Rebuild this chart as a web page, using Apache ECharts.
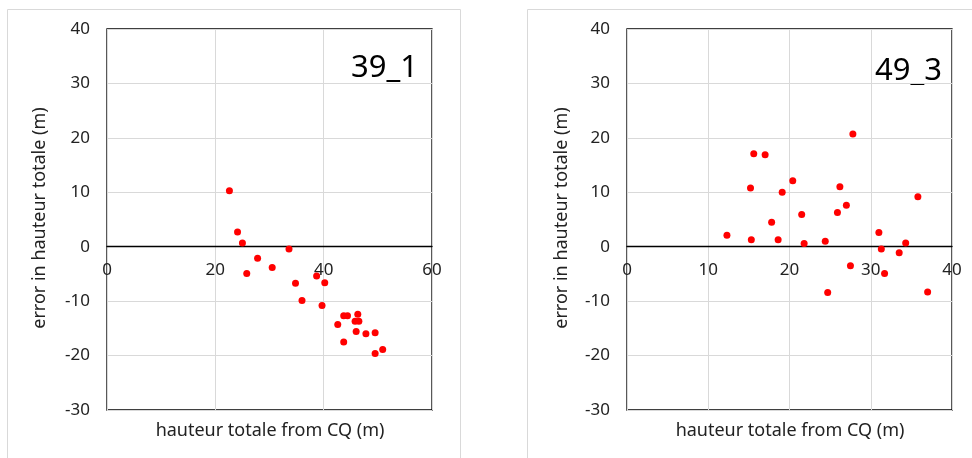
<!DOCTYPE html>
<html><head><meta charset="utf-8">
<script src="https://cdn.jsdelivr.net/npm/echarts@6/dist/echarts.min.js"></script>
<style>html,body{margin:0;padding:0;background:#fff}#c{width:972px;height:458px}</style>
</head><body><div id="c"></div>
<script>
// Panel 39_1
const xA = [22.6,24.1,25.0,33.6,27.8,30.5,25.8,38.7,34.8,40.2,36.0,39.7,43.7,44.4,46.3,45.8,46.5,42.6,46.0,47.8,49.5,43.7,50.9,49.5];
const yA = [10.3,2.7,0.7,-0.4,-2.1,-3.8,-4.9,-5.4,-6.7,-6.6,-9.9,-10.8,-12.7,-12.7,-12.4,-13.7,-13.7,-14.3,-15.6,-16.0,-15.8,-17.5,-18.9,-19.6];
// Panel 49_3
const xB = [27.8,15.6,17.0,20.4,15.2,26.2,19.1,35.8,27.0,25.9,21.5,17.8,12.3,31.0,15.3,18.6,21.8,24.4,34.3,31.3,33.5,27.5,31.7,24.7,37.0];
const yB = [20.7,17.1,16.9,12.1,10.8,11.0,10.0,9.2,7.6,6.3,5.9,4.5,2.1,2.6,1.3,1.3,0.6,1.0,0.7,-0.4,-1.1,-3.5,-4.9,-8.4,-8.3];
const labelA = '39_1', labelB = '49_3';
const xTitle = 'hauteur totale from CQ (m)';
const yTitle = 'error in hauteur totale (m)';
const yTicks = {min:-30, max:40, interval:10};
const xTicksA = {min:0, max:60, interval:20};
const xTicksB = {min:0, max:40, interval:10};

const FONT = 'Noto Sans';
const GT = 29, GH = 381;
// offset so the x axis sits at y = 0 of the value axis
const zeroOffset = -GH * (0 - yTicks.min) / (yTicks.max - yTicks.min);
const chart = echarts.init(document.getElementById('c'));
function xAx(idx, t){
  return {type:'value', gridIndex:idx, min:t.min, max:t.max, interval:t.interval,
    position:'bottom', offset:zeroOffset,
    axisLine:{show:true, onZero:false, lineStyle:{color:'#000', width:1.3}},
    axisTick:{show:false},
    axisLabel:{fontFamily:FONT, fontSize:17, color:'#222', margin:15},
    splitLine:{show:true, lineStyle:{color:'#d9d9d9', width:1}}};
}
function yAx(idx){
  return {type:'value', gridIndex:idx, min:yTicks.min, max:yTicks.max, interval:yTicks.interval,
    axisLine:{show:false}, axisTick:{show:false},
    axisLabel:{fontFamily:FONT, fontSize:17, color:'#222', margin:17},
    splitLine:{show:true, lineStyle:{color:'#d9d9d9', width:1}}};
}
const pts = (xs, ys) => xs.map((x,i)=>[x, ys[i]]);
chart.setOption({
  animation:false,
  grid:[
    {left:107, top:GT, width:325, height:GH, show:true, borderColor:'#000', borderWidth:1.3, backgroundColor:'transparent'},
    {left:627, top:GT, width:325, height:GH, show:true, borderColor:'#000', borderWidth:1.3, backgroundColor:'transparent'}
  ],
  xAxis:[xAx(0,xTicksA), xAx(1,xTicksB)],
  yAxis:[yAx(0), yAx(1)],
  series:[
    {type:'scatter', xAxisIndex:0, yAxisIndex:0, data:pts(xA,yA), symbolSize:7, itemStyle:{color:'#ff0000', opacity:1}},
    {type:'scatter', xAxisIndex:1, yAxisIndex:1, data:pts(xB,yB), symbolSize:7, itemStyle:{color:'#ff0000', opacity:1}}
  ],
  graphic:[
    {type:'rect', shape:{x:7.5, y:9.5, width:453, height:470}, style:{fill:'none', stroke:'#d9d9d9', lineWidth:1}, z:-1},
    {type:'rect', shape:{x:527.5, y:9.5, width:470, height:470}, style:{fill:'none', stroke:'#d9d9d9', lineWidth:1}, z:-1},
    {type:'text', x:418, y:68, style:{text:labelA, fontFamily:FONT, fontSize:31, fill:'#000', align:'right', verticalAlign:'middle'}},
    {type:'text', x:942, y:71, style:{text:labelB, fontFamily:FONT, fontSize:31, fill:'#000', align:'right', verticalAlign:'middle'}},
    {type:'text', x:270, y:431, style:{text:xTitle, fontFamily:FONT, fontSize:18, fill:'#222', align:'center', verticalAlign:'middle'}},
    {type:'text', x:790, y:431, style:{text:xTitle, fontFamily:FONT, fontSize:18, fill:'#222', align:'center', verticalAlign:'middle'}},
    {type:'text', x:40, y:218, rotation:Math.PI/2, style:{text:yTitle, fontFamily:FONT, fontSize:18, fill:'#222', align:'center', verticalAlign:'middle'}},
    {type:'text', x:562, y:218, rotation:Math.PI/2, style:{text:yTitle, fontFamily:FONT, fontSize:18, fill:'#222', align:'center', verticalAlign:'middle'}}
  ]
});
</script></body></html>
